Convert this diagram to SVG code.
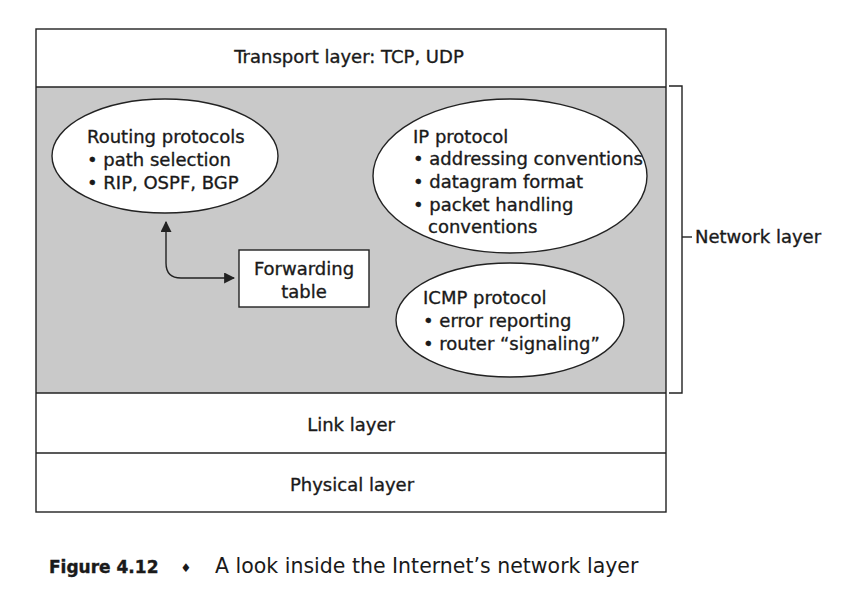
<svg xmlns="http://www.w3.org/2000/svg" width="841" height="610" viewBox="0 0 841 610">
<style>
.t{font-family:"DejaVu Sans","Noto Sans",sans-serif;font-size:18px;fill:#1a1a1a;stroke:#1a1a1a;stroke-width:0.35}
.c{text-anchor:middle}
.ln{stroke:#222;stroke-width:1.4;fill:none}
.el{fill:#fff;stroke:#222;stroke-width:1.4}
</style>
<defs>
<marker id="ah" viewBox="0 0 10 10" refX="9" refY="5" markerWidth="11" markerHeight="11" markerUnits="userSpaceOnUse" orient="auto-start-reverse">
<path d="M0,0 L10,5 L0,10 z" fill="#222"/>
</marker>
</defs>
<rect width="841" height="610" fill="#fff"/>
<g id="network-bg">
<rect x="36" y="87" width="630" height="306" fill="#c9c9c9"/>
</g>
<g id="frame">
<rect x="36" y="29" width="630" height="483" class="ln"/>
<line x1="36" y1="87" x2="666" y2="87" class="ln"/>
<line x1="36" y1="393" x2="666" y2="393" class="ln"/>
<line x1="36" y1="453" x2="666" y2="453" class="ln"/>
</g>
<g id="transport">
<text class="t c" x="349" y="63">Transport layer: TCP, UDP</text>
</g>
<g id="link">
<text class="t c" x="351" y="431">Link layer</text>
</g>
<g id="physical">
<text class="t c" x="352" y="491">Physical layer</text>
</g>
<g id="routing">
<ellipse cx="165" cy="156" rx="113" ry="57" class="el"/>
<text class="t" x="87" y="143">Routing protocols</text>
<text class="t" x="87" y="166">• path selection</text>
<text class="t" x="87" y="189">• RIP, OSPF, BGP</text>
</g>
<g id="ip">
<ellipse cx="510" cy="176" rx="137" ry="77" class="el"/>
<text class="t" x="413" y="143">IP protocol</text>
<text class="t" x="413" y="165">• addressing conventions</text>
<text class="t" x="413" y="188">• datagram format</text>
<text class="t" x="413" y="211">• packet handling</text>
<text class="t" x="428" y="233">conventions</text>
</g>
<g id="icmp">
<ellipse cx="510" cy="320" rx="114" ry="57" class="el"/>
<text class="t" x="423" y="304">ICMP protocol</text>
<text class="t" x="423" y="327">• error reporting</text>
<text class="t" x="423" y="350">• router “signaling”</text>
</g>
<g id="forwarding">
<rect x="239" y="250" width="130" height="57" fill="#fff" stroke="#222" stroke-width="1.4"/>
<text class="t c" x="304" y="275">Forwarding</text>
<text class="t c" x="304" y="298">table</text>
</g>
<g id="connectors">
<path d="M166,222 L166,263 Q166,278 181,278 L234,278" class="ln" stroke-width="1.8" marker-start="url(#ah)" marker-end="url(#ah)"/>
</g>
<g id="network-bracket">
<path d="M669,86 L682,86 L682,393 L669,393" class="ln"/>
<line x1="682" y1="237" x2="692" y2="237" class="ln"/>
<text class="t" x="695" y="243">Network layer</text>
</g>
<g id="caption">
<text x="49" y="573" style="font-family:'DejaVu Sans',sans-serif;font-weight:bold;font-size:17px;fill:#1a1a1a;stroke:#1a1a1a;stroke-width:0.4">Figure 4.12</text>
<text x="186" y="572" class="c" style="font-family:'DejaVu Sans',sans-serif;font-size:12px;fill:#1a1a1a">♦</text>
<text x="215" y="573" style="font-family:'DejaVu Sans',sans-serif;font-size:20.5px;fill:#1a1a1a">A look inside the Internet’s network layer</text>
</g>
</svg>
